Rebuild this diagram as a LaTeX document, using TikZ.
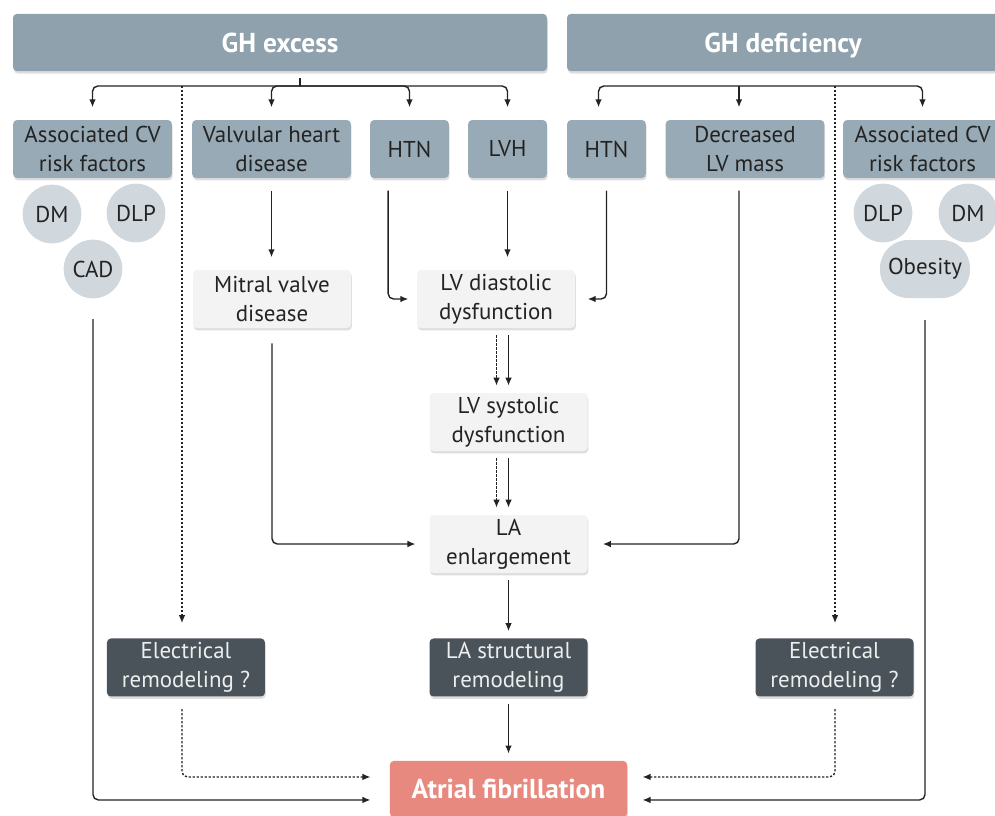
\documentclass[tikz,border=0pt]{standalone}
\usepackage{fontspec}
\setmainfont{PT Sans}
\usetikzlibrary{arrows.meta,shadows}

\definecolor{ghgray}{RGB}{142,161,172}
\definecolor{boxgray}{RGB}{152,170,181}
\definecolor{riskgray}{RGB}{208,216,222}
\definecolor{palegray}{RGB}{243,243,243}
\definecolor{slate}{RGB}{74,83,90}
\definecolor{salmon}{RGB}{232,137,127}
\definecolor{ink}{RGB}{35,35,35}

\begin{document}
\begin{tikzpicture}[x=0.75pt,y=-0.75pt,line width=1.05pt,draw=ink,
  soft/.style={drop shadow={fill=black,opacity=.13,shadow xshift=.6pt,shadow yshift=-1.8pt}},
  head/.style={rectangle,rounded corners=3pt,fill=ghgray,text=white,soft,
    font=\fontsize{20.5}{24}\selectfont\bfseries,minimum height=43pt,text height=16pt,text depth=1.6pt},
  cause/.style={rectangle,rounded corners=3pt,fill=boxgray,text=ink,soft,align=center,
    font=\fontsize{17.2}{21.5}\selectfont,minimum height=43.5pt,inner sep=1pt},
  risk/.style={circle,fill=riskgray,text=ink,font=\fontsize{17.2}{21.5}\selectfont,
    minimum size=44pt,inner sep=0pt},
  effect/.style={rectangle,rounded corners=3pt,fill=palegray,text=ink,soft,align=center,
    font=\fontsize{17.2}{21.5}\selectfont,minimum width=118.5pt,minimum height=43.5pt,inner sep=1pt},
  remodel/.style={effect,fill=slate,text=white!90!slate},
  outcome/.style={rectangle,rounded corners=3pt,fill=salmon,text=white,soft,
    font=\fontsize{20.5}{24}\selectfont\bfseries,minimum width=178pt,minimum height=42pt},
  arr/.style={draw=ink,-{Latex[length=6pt,width=5pt]},shorten <=5pt,shorten >=5pt},
  dotarr/.style={arr,dash pattern=on 1.6pt off 1.4pt}]

  \useasboundingbox (0,0) rectangle (995,815);
  \clip (0,0) rectangle (995,815);

  \node[head,minimum width=400.5pt] (exc) at (280,42.5) {GH excess};
  \node[head,minimum width=324pt] (def) at (783,42.5) {GH deficiency};

  \node[cause,minimum width=119pt] (assocL) at (92.5,149) {Associated CV\\risk factors};
  \node[cause,minimum width=119pt] (valv) [right of=assocL, node distance=134.25pt] {Valvular heart\\disease};
  \node[cause,minimum width=59pt] (htnL) [right of=valv, node distance=103.5pt] {HTN};
  \node[cause,minimum width=59pt] (lvh) [right of=htnL, node distance=73.5pt] {LVH};
  \node[cause,minimum width=59pt] (htnR) [right of=lvh, node distance=74.25pt] {HTN};
  \node[cause,minimum width=119pt] (lvmass) [right of=htnR, node distance=103.9pt] {Decreased\\LV mass};
  \node[cause,minimum width=119pt] (assocR) [right of=lvmass, node distance=133.1pt] {Associated CV\\risk factors};

  \node[risk] (dmL) at (52,214) {DM};
  \node[risk] (dlpL) at (136,213) {DLP};
  \node[risk] (cad) at (93,269) {CAD};
  \node[risk] (dlpR) at (883,213) {DLP};
  \node[risk] (dmR) at (968,213) {DM};
  \node[risk,rectangle,rounded corners=21pt,minimum width=67.5pt,minimum height=43.5pt] (obes) at (925,269) {Obesity};

  \node[effect] (mitral) at (272,299) {Mitral valve\\disease};
  \node[effect] (dia) at (496,299) {LV diastolic\\dysfunction};
  \node[effect] (sys) at (508.5,422) {LV systolic\\dysfunction};
  \node[effect] (laE) [below of=sys, node distance=91.5pt] {LA\\enlargement};
  \node[remodel] (laS) [below of=laE, node distance=92.6pt] {LA structural\\remodeling};
  \node[remodel] (elecL) [left of=laS, node distance=241.9pt] {Electrical\\remodeling ?};
  \node[remodel] (elecR) [right of=laS, node distance=244.5pt] {Electrical\\remodeling ?};
  \node[outcome] (af) [below of=laS, node distance=91.1pt] {Atrial fibrillation};

  \coordinate (excfork) at (300,86);
  \coordinate (deffork) at (739,86);
  \coordinate (dotL) at (182,86);
  \coordinate (dotR) at (835,86);

  \draw[shorten <=4.5pt] (exc.south -| excfork) -- (excfork);
  \foreach \n in {assocL,valv,htnL,lvh}
    \draw[arr,rounded corners=4pt,shorten <=0pt,shorten >=9pt] (excfork) -| (\n.north);
  \draw[arr,rounded corners=4pt,shorten <=0pt,shorten >=9pt] (deffork) -| ([xshift=-6pt]htnR.north);
  \draw[arr,rounded corners=4pt,shorten <=0pt,shorten >=9pt] (deffork) -| (assocR.north);
  \draw[arr,shorten <=0pt,shorten >=9pt] (deffork) -- (deffork |- lvmass.north);

  \draw[dotarr,shorten <=0pt,shorten >=11pt] (dotL) -- (dotL |- elecL.north);
  \draw[dotarr,shorten <=0pt,shorten >=11pt] (dotR) -- (dotR |- elecR.north);

  \draw[arr,shorten <=9pt,shorten >=9pt] (valv.south) -- (valv.south |- mitral.north);
  \draw[arr,shorten <=9pt,shorten >=9pt] (lvh.south) -- (lvh.south |- dia.north);
  \draw[arr,rounded corners=4pt,shorten <=9pt,shorten >=6pt] ([xshift=-16pt]htnL.south) |- (dia.west);
  \draw[arr,rounded corners=4pt,shorten <=9pt,shorten >=9pt] (htnR.south) |- (dia.east);

  \path (sys.north) ++(-12,0) coordinate (sysdot);
  \path (laE.north) ++(-12,0) coordinate (ladot);
  \draw[arr] (sys.north |- dia.south) -- (sys.north);
  \draw[dotarr] (sysdot |- dia.south) -- (sysdot);
  \draw[arr] (laE.north |- sys.south) -- (laE.north);
  \draw[dotarr] (ladot |- sys.south) -- (ladot);

  \draw[arr,rounded corners=4pt,shorten <=11pt,shorten >=10pt] (mitral.south) |- (laE.west);
  \draw[arr,rounded corners=4pt,shorten <=9pt,shorten >=11pt] (deffork |- lvmass.south) |- (laE.east);

  \draw[arr] (laE) -- (laS);
  \draw[arr] (laS) -- (af);

  \draw[arr,rounded corners=4pt,shorten <=15pt,shorten >=14pt] (cad.south) |- ([yshift=-8.25pt]af.west);
  \draw[arr,rounded corners=4pt,shorten <=16pt,shorten >=11pt] (obes.south) |- ([yshift=-8.25pt]af.east);
  \draw[dotarr,rounded corners=4pt,shorten <=9pt,shorten >=14pt] (dotL |- elecL.south) |- ([yshift=9pt]af.west);
  \draw[dotarr,rounded corners=4pt,shorten <=9pt,shorten >=11pt] (dotR |- elecR.south) |- ([yshift=9pt]af.east);

\end{tikzpicture}
\end{document}
